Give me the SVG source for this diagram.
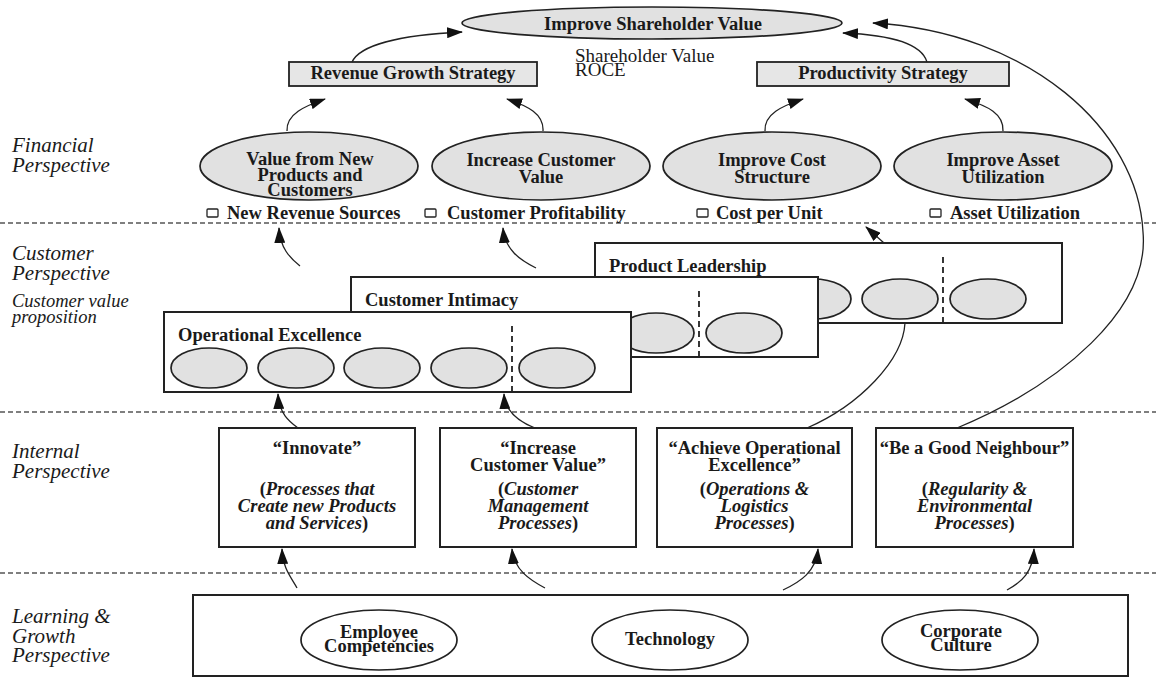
<svg xmlns="http://www.w3.org/2000/svg" width="1156" height="678" viewBox="0 0 1156 678">
  <style>
    text { font-family: "Liberation Serif", "Times New Roman", serif; fill: #1a1a1a; }
    .b { font-weight: bold; font-size: 18.5px; }
    .c { text-anchor: middle; }
    .i { font-style: italic; }
    .n { font-style: normal; }
    .side { font-style: italic; font-size: 21px; }
    .side-s { font-style: italic; font-size: 18.5px; }
    .plain { font-size: 19px; }
    .ell { fill: #e1e1e1; stroke: #222; stroke-width: 1.7; }
    .ell-w { fill: #fff; stroke: #222; stroke-width: 1.7; }
    .box { fill: #fff; stroke: #222; stroke-width: 2; }
    .strat { fill: #e6e6e6; stroke: #222; stroke-width: 1.8; }
    .chk { fill: #fff; stroke: #222; stroke-width: 1.3; }
    .sep { stroke: #222; stroke-width: 1.8; stroke-dasharray: 6 4; }
    .divider { stroke: #555; stroke-width: 1.4; stroke-dasharray: 5 3; }
    .conn { fill: none; stroke: #222; stroke-width: 1.3; }
    .arr { marker-end: url(#head); }
  </style>
  <defs>
    <marker id="head" viewBox="0 0 16 11" refX="15" refY="5.5" markerWidth="16" markerHeight="11" markerUnits="userSpaceOnUse" orient="auto">
      <path d="M0,0 L16,5.5 L0,11 Z" fill="#111"/>
    </marker>
  </defs>

  <rect width="1156" height="678" fill="#fff"/>

  <!-- perspective dividers -->
  <g id="dividers">
    <line class="divider" x1="0" y1="223" x2="1156" y2="223"/>
    <line class="divider" x1="0" y1="412" x2="1156" y2="412"/>
    <line class="divider" x1="0" y1="573" x2="1156" y2="573"/>
  </g>

  <!-- perspective labels -->
  <g id="labels">
    <text class="side" x="12" y="152">Financial</text>
    <text class="side" x="12" y="172">Perspective</text>
    <text class="side" x="12" y="260">Customer</text>
    <text class="side" x="12" y="280">Perspective</text>
    <text class="side-s" x="12" y="307">Customer value</text>
    <text class="side-s" x="12" y="323">proposition</text>
    <text class="side" x="12" y="458">Internal</text>
    <text class="side" x="12" y="478">Perspective</text>
    <text class="side" x="12" y="623">Learning &amp;</text>
    <text class="side" x="12" y="643">Growth</text>
    <text class="side" x="12" y="662">Perspective</text>
  </g>

  <!-- financial perspective -->
  <g id="shareholder-value">
    <ellipse class="ell" cx="652" cy="23" rx="190" ry="16"/>
    <text class="b c" x="653" y="30">Improve Shareholder Value</text>
  </g>
  <g id="shareholder-measures">
    <text class="plain" x="575" y="62">Shareholder Value</text>
    <text class="plain" x="575" y="76">ROCE</text>
  </g>
  <g id="revenue-growth">
    <rect class="strat" x="289" y="62" width="248" height="24"/>
    <text class="b c" x="413" y="79">Revenue Growth Strategy</text>
  </g>
  <g id="productivity">
    <rect class="strat" x="757" y="62" width="252" height="24"/>
    <text class="b c" x="883" y="79">Productivity Strategy</text>
  </g>

  <g id="new-products">
    <ellipse class="ell" cx="309" cy="166" rx="109" ry="34"/>
    <text class="b c" x="310" y="165">Value from New</text>
    <text class="b c" x="310" y="181">Products and</text>
    <text class="b c" x="310" y="196">Customers</text>
    <rect class="chk" x="207" y="209" width="11" height="8" rx="1"/>
    <text class="b" x="227" y="219">New Revenue Sources</text>
  </g>
  <g id="customer-value">
    <ellipse class="ell" cx="541" cy="166" rx="109" ry="34"/>
    <text class="b c" x="541" y="166">Increase Customer</text>
    <text class="b c" x="541" y="183">Value</text>
    <rect class="chk" x="425" y="209" width="11" height="8" rx="1"/>
    <text class="b" x="447" y="219">Customer Profitability</text>
  </g>
  <g id="cost-structure">
    <ellipse class="ell" cx="772" cy="166" rx="109" ry="34"/>
    <text class="b c" x="772" y="166">Improve Cost</text>
    <text class="b c" x="772" y="183">Structure</text>
    <rect class="chk" x="697" y="209" width="11" height="8" rx="1"/>
    <text class="b" x="716" y="219">Cost per Unit</text>
  </g>
  <g id="asset-utilization">
    <ellipse class="ell" cx="1003" cy="166" rx="109" ry="34"/>
    <text class="b c" x="1003" y="166">Improve Asset</text>
    <text class="b c" x="1003" y="183">Utilization</text>
    <rect class="chk" x="930" y="209" width="11" height="8" rx="1"/>
    <text class="b" x="950" y="219">Asset Utilization</text>
  </g>

  <!-- customer value propositions, stacked back to front -->
  <g id="product-leadership" transform="translate(595,243)">
    <rect class="box" width="467" height="80"/>
    <text class="b" x="14" y="29">Product Leadership</text>
    <ellipse class="ell" cx="218" cy="56" rx="38" ry="20"/>
    <ellipse class="ell" cx="305" cy="56" rx="38" ry="20"/>
    <line class="sep" x1="348" y1="14" x2="348" y2="80"/>
    <ellipse class="ell" cx="393" cy="56" rx="38" ry="20"/>
  </g>
  <g id="customer-intimacy" transform="translate(351,277)">
    <rect class="box" width="467" height="80"/>
    <text class="b" x="14" y="29">Customer Intimacy</text>
    <ellipse class="ell" cx="305" cy="56" rx="38" ry="20"/>
    <line class="sep" x1="348" y1="14" x2="348" y2="80"/>
    <ellipse class="ell" cx="393" cy="56" rx="38" ry="20"/>
  </g>
  <g id="operational-excellence" transform="translate(164,312)">
    <rect class="box" width="467" height="80"/>
    <text class="b" x="14" y="29">Operational Excellence</text>
    <ellipse class="ell" cx="45" cy="56" rx="38" ry="20"/>
    <ellipse class="ell" cx="132" cy="56" rx="38" ry="20"/>
    <ellipse class="ell" cx="218" cy="56" rx="38" ry="20"/>
    <ellipse class="ell" cx="305" cy="56" rx="38" ry="20"/>
    <line class="sep" x1="348" y1="14" x2="348" y2="80"/>
    <ellipse class="ell" cx="393" cy="56" rx="38" ry="20"/>
  </g>

  <!-- internal processes -->
  <g id="innovate">
    <rect class="box" x="219" y="428" width="196" height="119"/>
    <text class="b c" x="317" y="454">“Innovate”</text>
    <text class="b c" x="317" y="495"><tspan class="n">(</tspan><tspan class="i">Processes that</tspan></text>
    <text class="b c i" x="317" y="512">Create new Products</text>
    <text class="b c" x="317" y="529"><tspan class="i">and Services</tspan><tspan class="n">)</tspan></text>
  </g>
  <g id="increase-customer-value">
    <rect class="box" x="440" y="428" width="196" height="119"/>
    <text class="b c" x="538" y="454">“Increase</text>
    <text class="b c" x="538" y="471">Customer Value”</text>
    <text class="b c" x="538" y="495"><tspan class="n">(</tspan><tspan class="i">Customer</tspan></text>
    <text class="b c i" x="538" y="512">Management</text>
    <text class="b c" x="538" y="529"><tspan class="i">Processes</tspan><tspan class="n">)</tspan></text>
  </g>
  <g id="operational-excellence-process">
    <rect class="box" x="657" y="428" width="195" height="119"/>
    <text class="b c" x="754.5" y="454">“Achieve Operational</text>
    <text class="b c" x="754.5" y="471">Excellence”</text>
    <text class="b c" x="754.5" y="495"><tspan class="n">(</tspan><tspan class="i">Operations &amp;</tspan></text>
    <text class="b c i" x="754.5" y="512">Logistics</text>
    <text class="b c" x="754.5" y="529"><tspan class="i">Processes</tspan><tspan class="n">)</tspan></text>
  </g>
  <g id="good-neighbour">
    <rect class="box" x="876" y="428" width="197" height="119"/>
    <text class="b c" x="974.5" y="454">“Be a Good Neighbour”</text>
    <text class="b c" x="974.5" y="495"><tspan class="n">(</tspan><tspan class="i">Regularity &amp;</tspan></text>
    <text class="b c i" x="974.5" y="512">Environmental</text>
    <text class="b c" x="974.5" y="529"><tspan class="i">Processes</tspan><tspan class="n">)</tspan></text>
  </g>

  <!-- learning and growth -->
  <g id="learning-growth">
    <rect class="box" x="193" y="595" width="935" height="81"/>
  </g>
  <g id="employee-competencies">
    <ellipse class="ell-w" cx="379" cy="640" rx="78" ry="30"/>
    <text class="b c" x="379" y="638">Employee</text>
    <text class="b c" x="379" y="652">Competencies</text>
  </g>
  <g id="technology">
    <ellipse class="ell-w" cx="670" cy="640" rx="78" ry="30"/>
    <text class="b c" x="670" y="645">Technology</text>
  </g>
  <g id="corporate-culture">
    <ellipse class="ell-w" cx="960" cy="640" rx="78" ry="30"/>
    <text class="b c" x="961" y="637">Corporate</text>
    <text class="b c" x="961" y="651">Culture</text>
  </g>

  <!-- cause-and-effect links -->
  <g id="connectors">
    <path class="conn arr" d="M352,62 C360,45 400,35 462,32"/>
    <path class="conn arr" d="M927,62 C922,45 895,35 843,33"/>
    <path class="conn arr" d="M957,428 C1060,385 1150,310 1143,232 C1138,130 1030,32 873,23"/>

    <path class="conn arr" d="M287,131 C286,114 305,106 325,99"/>
    <path class="conn arr" d="M543,131 C544,114 528,106 507,99"/>
    <path class="conn arr" d="M765,131 C764,114 782,106 803,99"/>
    <path class="conn arr" d="M1003,131 C1004,114 988,106 965,99"/>

    <path class="conn arr" d="M300,266 C290,258 280,248 279,228"/>
    <path class="conn arr" d="M536,268 C520,260 505,250 503,228"/>
    <path class="conn arr" d="M884,243 L866,227"/>

    <path class="conn arr" d="M298,428 C290,422 279,414 278,394"/>
    <path class="conn arr" d="M535,428 C520,422 505,412 504,394"/>
    <path class="conn" d="M807,428 C860,405 903,360 905,323"/>

    <path class="conn arr" d="M297,588 C292,578 283,570 282,549"/>
    <path class="conn arr" d="M545,588 C530,580 514,570 512,549"/>
    <path class="conn arr" d="M783,590 C800,582 816,572 818,549"/>
    <path class="conn arr" d="M1007,590 C1022,582 1033,572 1034,549"/>
  </g>
</svg>
